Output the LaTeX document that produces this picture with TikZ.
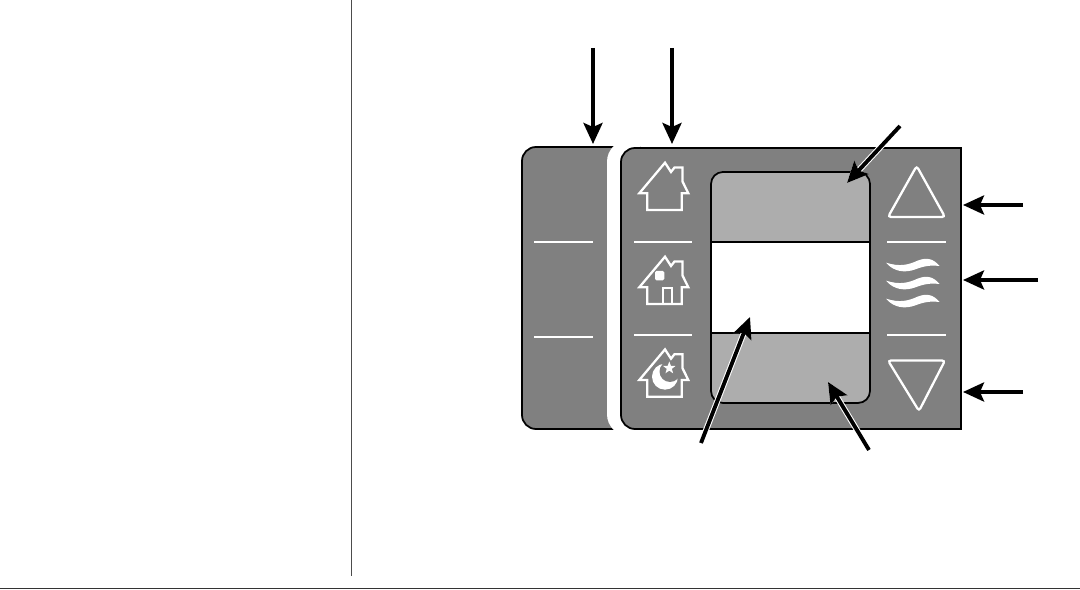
\documentclass[tikz,border=0pt]{standalone}
\usepackage{xcolor}
\usetikzlibrary{arrows.meta}
\usetikzlibrary{shapes.geometric}
\definecolor{panelgray}{HTML}{808080}
\definecolor{bandgray}{HTML}{ADADAD}
\tikzset{callout/.style = {line width = 2.2pt, -{Stealth[length = 0.42cm, width = 0.38cm, inset = 0.08cm]},
                           preaction = {draw = white, line width = 3.4pt,
                                        -{Stealth[length = 0.42cm, width = 0.38cm, inset = 0.08cm, line width = 1pt]}}}}
\tikzset{rule/.style = {draw = white, line width = 0.9pt}}
\tikzset{icon/.style = {draw = white, line width = 1.3pt, line join = miter}}
\tikzset{edge/.style = {draw = black, line width = 1pt}}
\tikzset{house/.pic = {
      \draw [icon] (665, 162.7) -- (671, 172) -- (674.5, 167.5) -- (682.5, 167.5) -- (682.5, 181.5)
                -- (688.3, 193.3) -- (681.7, 193.3) -- (681.7, 210) -- (647.3, 210)
                -- (647.3, 193.3) -- (639.3, 193.3) -- cycle;
}}
\tikzset{wave/.pic = {
      \fill [white] (886, 262.7) .. controls (900, 267) and (908, 265) .. (918, 260.5)
                .. controls (926, 257.5) and (933, 258) .. (939.5, 266)
                .. controls (930, 265) and (924, 266) .. (915, 269.5)
                .. controls (905, 273) and (894, 272) .. cycle;
}}

\begin{document}
\begin{tikzpicture}[x = 0.02cm, y = -0.02cm]
      \useasboundingbox (0, 0) rectangle (1080, 590);

      \draw [line width = 0.5pt, black!70] (351, 0) -- (351, 576);
      \draw [line width = 1pt, black!80] (0, 588.5) -- (1080, 588.5);

      % left panel
      \filldraw [edge, fill = panelgray, rounded corners = 0.28cm] (640, 147) -- (522, 147) -- (522, 429) -- (640, 429);
      \fill [white] (615, 145) .. controls (609, 150) and (607, 156) .. (607, 162) -- (607, 414)
            .. controls (607, 420) and (609, 426) .. (615, 431) -- (640, 431) -- (640, 145) -- cycle;
      \draw [rule] (534, 242) -- (593, 242);
      \draw [rule] (534, 337) -- (593, 337);

      % right panel
      \filldraw [edge, fill = panelgray, rounded corners = 0.28cm] (961, 148) -- (621, 148) -- (621, 429) [sharp corners] -- (961, 429) -- cycle;
      \draw [rule] (634, 242) -- (692, 242);
      \draw [rule] (634, 335) -- (692, 335);
      \draw [rule] (887, 242) -- (946, 242);
      \draw [rule] (887, 335) -- (946, 335);

      % display
      \begin{scope}
        \clip [rounded corners = 0.24cm] (711, 172) rectangle (870, 403);
        \fill [bandgray] (711, 172) rectangle (870, 242);
        \fill [white] (711, 242) rectangle (870, 333);
        \fill [bandgray] (711, 333) rectangle (870, 403);
      \end{scope}
      \draw [edge, line width = 1.1pt] (711, 242) -- (870, 242);
      \draw [edge, line width = 0.8pt] (711, 333) -- (870, 333);
      \draw [edge, rounded corners = 0.24cm] (711, 172) rectangle (870, 403);

      % houses
      \pic at (0, 0) {house};
      \pic at (0, 94) {house};
      \pic at (0, 186.7) {house};
      \draw [icon] (663.3, 304) -- (663.3, 288.3) -- (671.7, 288.3) -- (671.7, 304);
      \fill [white, rounded corners = 0.03cm] (655, 271) rectangle (664.3, 280.3);
      \fill [white] (665, 376.7) circle (13);
      \fill [panelgray] (670, 371.5) circle (10.5);
      \node (moonstar) [star, star points = 5, star point ratio = 2.4, fill = white, inner sep = 0, minimum size = 0.26cm] at (669.3, 368) {};

      % fan and set point keys
      \draw [icon, rounded corners = 0.06cm] (916.7, 166) -- (945, 217) -- (888, 217) -- cycle;
      \draw [icon, rounded corners = 0.06cm] (888, 360.5) -- (945, 360.5) -- (919, 411) -- cycle;
      \pic at (0, 0) {wave};
      \pic at (0, 18) {wave};
      \pic at (0, 36) {wave};

      % callouts
      \coordinate (leftfrom) at (593, 48);
      \coordinate (leftto) at (593, 144);
      \coordinate (keyfrom) at (672, 48);
      \coordinate (keyto) at (672, 144);
      \coordinate (topfrom) at (900, 126);
      \coordinate (topto) at (847, 183);
      \coordinate (midfrom) at (701, 443);
      \coordinate (midto) at (750, 317);
      \coordinate (lowfrom) at (869, 450);
      \coordinate (lowto) at (828, 382);
      \coordinate (upfrom) at (1023, 205);
      \coordinate (upto) at (963, 205);
      \coordinate (fanfrom) at (1038, 280);
      \coordinate (fanto) at (963, 280);
      \coordinate (downfrom) at (1023, 392);
      \coordinate (downto) at (963, 392);

      \draw [callout] (leftfrom) -- (leftto);
      \draw [callout] (keyfrom) -- (keyto);
      \draw [callout] (topfrom) -- (topto);
      \draw [callout] (midfrom) -- (midto);
      \draw [callout] (lowfrom) -- (lowto);
      \draw [callout] (upfrom) -- (upto);
      \draw [callout] (fanfrom) -- (fanto);
      \draw [callout] (downfrom) -- (downto);
\end{tikzpicture}
\end{document}
